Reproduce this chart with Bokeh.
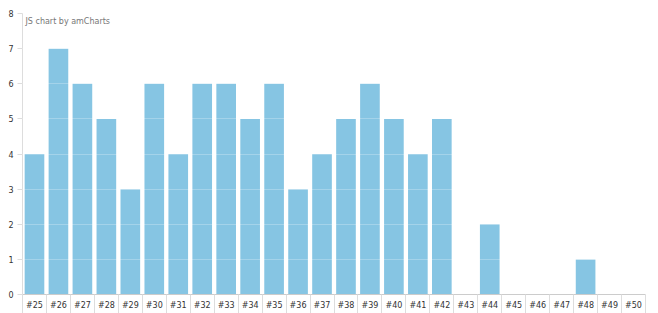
from bokeh.plotting import figure
from bokeh.models import FixedTicker, Range1d, Label, ColumnDataSource
from bokeh.embed import file_html
from bokeh.resources import INLINE

categories = ["#25", "#26", "#27", "#28", "#29", "#30", "#31", "#32", "#33", "#34",
              "#35", "#36", "#37", "#38", "#39", "#40", "#41", "#42", "#43", "#44",
              "#45", "#46", "#47", "#48", "#49", "#50"]
values = [4, 7, 6, 5, 3, 6, 4, 6, 6, 5, 6, 3, 4, 5, 6, 5, 4, 5, 0, 2, 0, 0, 0, 1, 0, 0]
y_ticks = [0, 1, 2, 3, 4, 5, 6, 7, 8]

n = len(categories)
xs = [i + 0.5 for i in range(n)]
src = ColumnDataSource(dict(x=xs, top=values, cat=categories))

p = figure(width=658, height=313, output_backend="svg", toolbar_location=None,
           x_range=Range1d(0, n), y_range=Range1d(0, 8),
           min_border_left=22, min_border_right=13, min_border_top=13, min_border_bottom=19)
p.outline_line_color = None
p.background_fill_color = "white"
p.border_fill_color = "white"

p.vbar(x="x", top="top", width=0.82, bottom=0, source=src,
       fill_color="#86c5e3", line_color=None)

font = "DejaVu Sans"
# x axis: labels at centres, separator ticks at category boundaries
p.xaxis.ticker = FixedTicker(ticks=xs, minor_ticks=list(range(n + 1)))
p.xaxis.major_label_overrides = {x: c for x, c in zip(xs, categories)}
p.xaxis.major_label_text_font = font
p.xaxis.major_label_text_font_size = "8px"
p.xaxis.major_label_text_color = "#333333"
p.xaxis.major_label_standoff = -13
p.xaxis.major_tick_line_color = None
p.xaxis.major_tick_out = 0
p.xaxis.minor_tick_out = 19
p.xaxis.minor_tick_in = 0
p.xaxis.minor_tick_line_color = "#dddddd"
p.xaxis.axis_line_color = "#cccccc"

# y axis
p.yaxis.ticker = FixedTicker(ticks=y_ticks)
p.yaxis.axis_line_color = "#dddddd"
p.yaxis.major_tick_line_color = "#dddddd"
p.yaxis.major_tick_out = 5
p.yaxis.major_tick_in = 0
p.yaxis.minor_tick_line_color = None
p.yaxis.major_label_text_font = font
p.yaxis.major_label_text_font_size = "8px"
p.yaxis.major_label_text_color = "#333333"
p.yaxis.major_label_standoff = 4

p.xgrid.visible = False
p.ygrid.ticker = FixedTicker(ticks=y_ticks)
p.ygrid.grid_line_color = "#ffffff"
p.ygrid.grid_line_alpha = 0.25
p.ygrid.level = "overlay"

p.add_layout(Label(x=3, y=269, x_units="screen", y_units="screen",
                   text="JS chart by amCharts", text_font=font, text_baseline="bottom",
                   text_font_size="8px", text_color="#777777"))

open("out.html", "w").write(file_html(p, INLINE))
